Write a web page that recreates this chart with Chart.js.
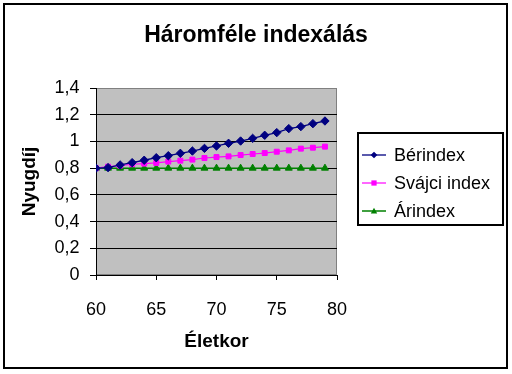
<!DOCTYPE html>
<html>
<head>
<meta charset="utf-8">
<script src="https://cdn.jsdelivr.net/npm/chart.js@4/dist/chart.umd.min.js"></script>
<style>
body{margin:0;background:#fff;}
#wrap{position:relative;width:512px;height:374px;}
#frame{position:absolute;left:3px;top:3px;width:505px;height:366px;border:2px solid #000;box-sizing:border-box;pointer-events:none;}
#legend{position:absolute;left:357px;top:132px;width:147px;height:94px;border:2px solid #000;box-sizing:border-box;background:#fff;
  font:18px "Liberation Sans",Arial,sans-serif;color:#000;}
.item{position:absolute;left:3px;height:24px;display:flex;align-items:center;white-space:nowrap;}
.item canvas{margin-right:8px;}
</style>
</head>
<body>
<div id="wrap">
  <canvas id="chart" width="512" height="374"></canvas>
  <div id="frame"></div>
  <div id="legend"></div>
</div>
<script>
// ================= DATA =================
const ages = [60,61,62,63,64,65,66,67,68,69,70,71,72,73,74,75,76,77,78,79];
const berIndex = [0.80,0.804,0.824,0.841,0.859,0.878,0.893,0.911,0.928,0.948,0.966,0.986,1.003,1.023,1.046,1.066,1.096,1.111,1.133,1.153];
const svajciIndex = [0.80,0.811,0.819,0.829,0.834,0.839,0.849,0.856,0.864,0.876,0.883,0.888,0.898,0.906,0.913,0.923,0.933,0.946,0.953,0.961];
const arIndex = [0.80,0.80,0.80,0.80,0.80,0.80,0.80,0.80,0.80,0.80,0.80,0.80,0.80,0.80,0.80,0.80,0.80,0.80,0.80,0.80];
const seriesNames = ["Bérindex","Svájci index","Árindex"];
const yTickLabels = ["0","0,2","0,4","0,6","0,8","1","1,2","1,4"];
const xTickValues = [60,65,70,75,80];

const FONT = '"Liberation Sans", Arial, sans-serif';

const toPoints = vals => ages.map((a,i)=>({x:a,y:vals[i]}));

// ================= PLOT BACKGROUND =================
const plotBg = {
  id:"plotBg",
  beforeDraw(chart){
    const {ctx, chartArea:a} = chart;
    ctx.save();
    ctx.fillStyle = "#c0c0c0";
    ctx.fillRect(a.left, a.top, a.right-a.left, a.bottom-a.top);
    ctx.strokeStyle = "#808080";
    ctx.lineWidth = 1;
    ctx.strokeRect(a.left+0.5, a.top+0.5, a.right-a.left-1, a.bottom-a.top-1);
    ctx.restore();
  }
};

// ================= CHART =================
const chart = new Chart(document.getElementById("chart"), {
  type:"line",
  data:{
    datasets:[
      {label:seriesNames[0], data:toPoints(berIndex), borderColor:"#000080", backgroundColor:"#000080",
       borderWidth:1.3, pointStyle:"rectRot", pointRadius:4.2, pointBorderWidth:1},
      {label:seriesNames[1], data:toPoints(svajciIndex), borderColor:"#ff00ff", backgroundColor:"#ff00ff",
       borderWidth:1.2, pointStyle:"rect", pointRadius:3.5, pointBorderWidth:1},
      {label:seriesNames[2], data:toPoints(arIndex), borderColor:"#008000", backgroundColor:"#008000",
       borderWidth:1.5, pointStyle:"triangle", pointRadius:4, pointBorderWidth:1}
    ]
  },
  options:{
    responsive:false,
    devicePixelRatio:1,
    animation:false,
    layout:{padding:{left:5,right:5,top:8,bottom:8}},
    plugins:{
      legend:{display:false},
      tooltip:{enabled:false},
      title:{
        display:true,
        text:"Háromféle indexálás",
        color:"#000",
        font:{family:FONT,size:23,weight:"bold"},
        padding:{top:14,bottom:38.4}
      }
    },
    scales:{
      x:{
        type:"linear",
        position:"bottom",
        min:60, max:80,
        afterBuildTicks: s => { s.ticks = xTickValues.map(v=>({value:v})); },
        ticks:{color:"#000",font:{family:FONT,size:18},padding:19},
        grid:{drawOnChartArea:false,color:"#000",tickColor:"#000",tickLength:5},
        border:{color:"#000",width:1},
        title:{display:true,text:"Életkor",color:"#000",
          font:{family:FONT,size:19,weight:"bold"},padding:{top:0,bottom:13}},
        afterFit: s => { s.height = 91; }
      },
      y:{
        min:0, max:1.4,
        ticks:{stepSize:0.2,color:"#000",font:{family:FONT,size:18},padding:10.5,
          callback:(v,i)=>yTickLabels[i]},
        grid:{color:c => (c.tick && Math.abs(c.tick.value-1.4)<1e-6) ? "#808080" : "#000",
          tickColor:"#000",tickLength:6},
        border:{color:"#000",width:1},
        title:{display:true,text:"Nyugdíj",color:"#000",
          font:{family:FONT,size:19,weight:"bold"},padding:{top:13.6,bottom:0}},
        afterFit: s => { s.width = 91; }
      },
      yr:{
        position:"right",
        ticks:{display:false},
        grid:{display:false},
        border:{display:false},
        afterFit: s => { s.width = 170; }
      }
    }
  },
  plugins:[plotBg]
});

// ================= LEGEND =================
function drawSymbol(cv, ds){
  const ctx = cv.getContext("2d");
  const cy = cv.height/2, cx = 12, r = ds.pointRadius;
  ctx.strokeStyle = ds.borderColor;
  ctx.fillStyle = ds.backgroundColor;
  ctx.lineWidth = ds.borderWidth;
  ctx.beginPath(); ctx.moveTo(0,cy); ctx.lineTo(cv.width,cy); ctx.stroke();
  ctx.beginPath();
  if(ds.pointStyle==="rectRot"){
    ctx.moveTo(cx,cy-r*0.8); ctx.lineTo(cx+r*0.8,cy); ctx.lineTo(cx,cy+r*0.8); ctx.lineTo(cx-r*0.8,cy);
  }else if(ds.pointStyle==="rect"){
    const s = r*0.75; ctx.rect(cx-s,cy-s,2*s,2*s);
  }else{
    ctx.moveTo(cx,cy-r*0.8); ctx.lineTo(cx+r*0.8,cy+r*0.6); ctx.lineTo(cx-r*0.8,cy+r*0.6);
  }
  ctx.closePath(); ctx.fill();
}

const legendEl = document.getElementById("legend");
const rowTops = [9,37,65];
chart.data.datasets.forEach((ds,i)=>{
  const item = document.createElement("div");
  item.className = "item";
  item.style.top = rowTops[i]+"px";
  const cv = document.createElement("canvas");
  cv.width = 24; cv.height = 12;
  drawSymbol(cv, ds);
  item.appendChild(cv);
  const span = document.createElement("span");
  span.textContent = ds.label;
  item.appendChild(span);
  legendEl.appendChild(item);
});
</script>
</body>
</html>
